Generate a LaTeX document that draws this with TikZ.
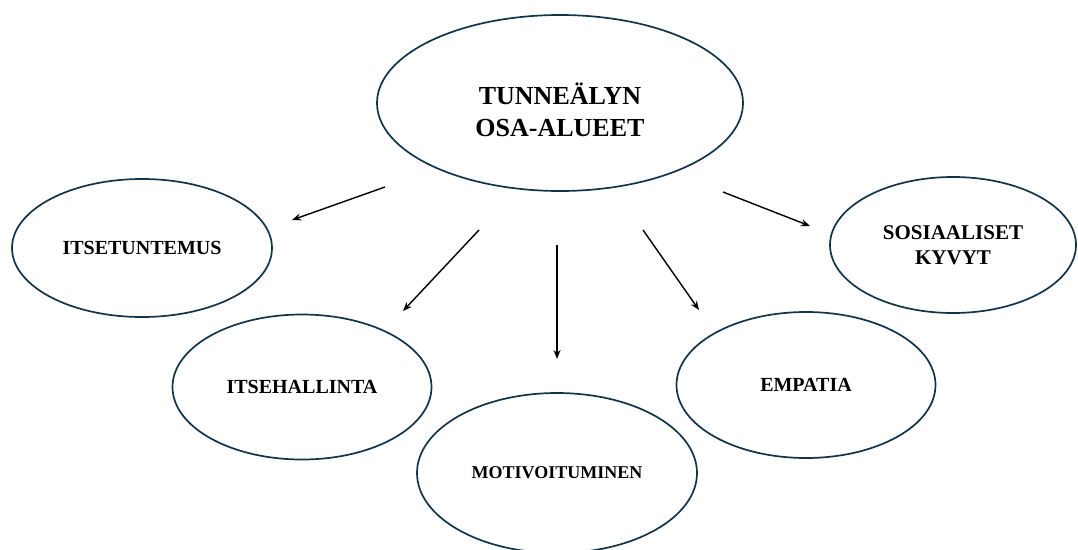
\documentclass[tikz,border=0pt]{standalone}
\usepackage{fontspec}
\setmainfont{Liberation Serif}
\usetikzlibrary{shapes.geometric, arrows.meta}
\definecolor{rimblue}{HTML}{12344A}
\tikzset{
  area/.style = {ellipse, draw = rimblue, line width = 1.7pt, inner sep = 0pt,
    align = center, font = \bfseries\fontsize{20}{25}\selectfont},
  link/.style = {-{Stealth[length = 9pt, width = 7pt]}, line width = 1.4pt},
}
\newcommand{\lowered}[1]{\raisebox{-7pt}[\height][\depth]{#1}}
\begin{document}
\begin{tikzpicture}[x = 1pt, y = -1pt]
    \useasboundingbox (0, 0) rectangle (1078, 549);
    \node [area, minimum width = 366pt, minimum height = 176pt,
      font = \bfseries\fontsize{26}{32}\selectfont] (tunne) at (560, 103)
      {\lowered{TUNNEÄLYN}\\\lowered{OSA-ALUEET}};
    \node [area, minimum width = 260pt, minimum height = 138pt] (itse) at (142, 248) {ITSETUNTEMUS};
    \node [area, minimum width = 259pt, minimum height = 145pt] (hall) at (302, 387) {ITSEHALLINTA};
    \node [area, minimum width = 280pt, minimum height = 160pt,
      font = \bfseries\fontsize{18}{22}\selectfont] (moti) at (557, 473) {MOTIVOITUMINEN};
    \node [area, minimum width = 259pt, minimum height = 146pt] (empa) at (806, 385) {EMPATIA};
    \node [area, minimum width = 246pt, minimum height = 136pt,
      font = \bfseries\fontsize{21}{25}\selectfont] (sosi) at (953, 245) {SOSIAALISET\\KYVYT};
    % free arrows between the areas
    \coordinate (itse-a) at (385, 187);
    \coordinate (itse-b) at (292, 220);
    \coordinate (hall-a) at (479, 230);
    \coordinate (hall-b) at (403, 311);
    \coordinate (moti-a) at (557, 245);
    \coordinate (moti-b) at (557, 359);
    \coordinate (empa-a) at (643, 230);
    \coordinate (empa-b) at (699, 310);
    \coordinate (sosi-a) at (723, 192);
    \coordinate (sosi-b) at (810, 226);
    \draw [link] (itse-a) -- (itse-b);
    \draw [link] (hall-a) -- (hall-b);
    \draw [link] (moti-a) -- (moti-b);
    \draw [link] (empa-a) -- (empa-b);
    \draw [link] (sosi-a) -- (sosi-b);
  \end{tikzpicture}
\end{document}
